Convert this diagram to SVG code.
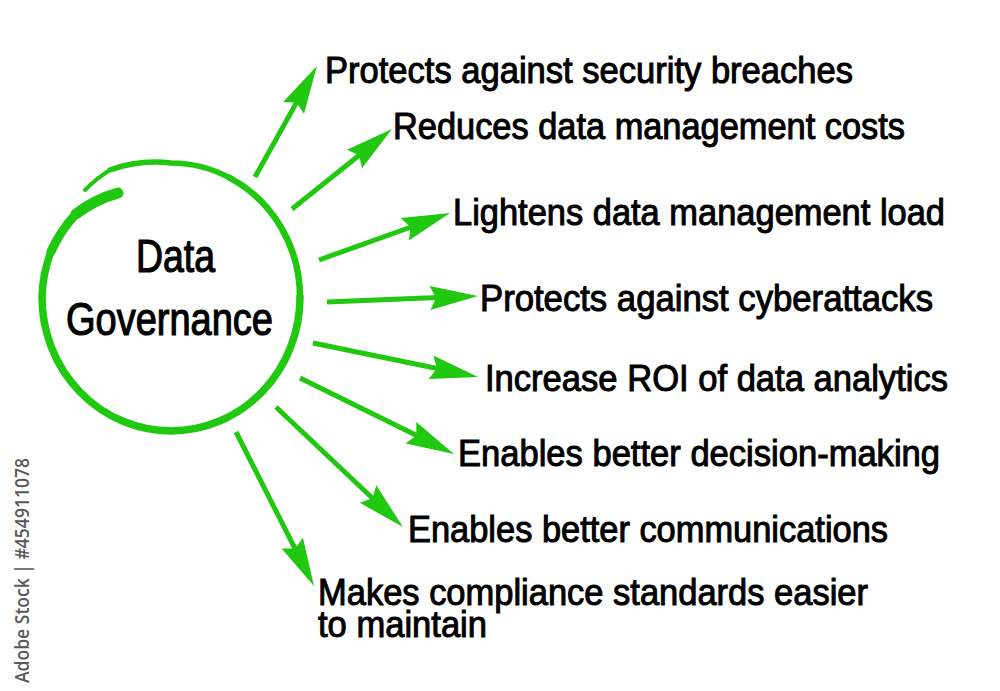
<svg xmlns="http://www.w3.org/2000/svg" width="1000" height="691" viewBox="0 0 1000 691">
<style>
.lbl{font-family:"Liberation Sans",Arial,sans-serif;font-size:36px;fill:#000;stroke:#000;stroke-width:1;}
.ctr{font-family:"Liberation Sans",Arial,sans-serif;font-size:46px;fill:#000;stroke:#000;stroke-width:1.2;}
.arr{stroke:#20c810;stroke-width:5;fill:none;marker-end:url(#head);}
.ring{fill:none;stroke:#20c810;stroke-linecap:round;}
.wm{font-family:"Open Sans","DejaVu Sans",sans-serif;font-size:19px;font-weight:600;fill:#5a5a5a;}
</style>
<defs>
<marker id="head" markerUnits="userSpaceOnUse" orient="auto" refX="20" refY="0" markerWidth="50" markerHeight="28" viewBox="0 -14 50 28" overflow="visible">
<path d="M0,-12 L48,0 L0,12 L6,0 Z" fill="#20c810"/>
</marker>
</defs>
<rect width="1000" height="691" fill="#fff"/>
<g id="center">
<path class="ring" stroke-width="11" d="M118,193 A124,129 0 0 0 76,214"/>
<path class="ring" stroke-width="9" d="M76,214 A127,132 0 0 0 51,251.6"/>
<path class="ring" stroke-width="7.5" d="M51,251.6 A129,134 0 0 0 42,297 A129,134 0 0 0 171,431 A129,134 0 0 0 300,297"/>
<path class="ring" stroke-width="6.5" d="M300,297 A129,134 0 0 0 230,178"/>
<path class="ring" stroke-width="5.5" d="M230,178 A129,134 0 0 0 171,163 A136,141 0 0 0 110,170"/>
<path class="ring" stroke-width="4" d="M110,170 A136,141 0 0 0 85,190"/>
<text class="ctr" x="136" y="272" textLength="79" lengthAdjust="spacingAndGlyphs">Data</text>
<text class="ctr" x="66" y="335" textLength="207" lengthAdjust="spacingAndGlyphs">Governance</text>
</g>
<g id="connectors">
<line class="arr" x1="255" y1="177" x2="303.3" y2="90.4"/>
<line class="arr" x1="292" y1="209" x2="370.1" y2="146.5"/>
<line class="arr" x1="319" y1="260" x2="423.7" y2="222.5"/>
<line class="arr" x1="327" y1="302" x2="450" y2="297.1"/>
<line class="arr" x1="313" y1="343" x2="450.6" y2="371.3"/>
<line class="arr" x1="300" y1="378" x2="428.9" y2="441.6"/>
<line class="arr" x1="276" y1="407" x2="382.6" y2="507.8"/>
<line class="arr" x1="236" y1="432" x2="301.3" y2="561"/>
</g>
<g id="n1"><text class="lbl" x="325" y="83" textLength="528" lengthAdjust="spacingAndGlyphs">Protects against security breaches</text></g>
<g id="n2"><text class="lbl" x="393" y="139" textLength="512" lengthAdjust="spacingAndGlyphs">Reduces data management costs</text></g>
<g id="n3"><text class="lbl" x="453" y="225" textLength="492" lengthAdjust="spacingAndGlyphs">Lightens data management load</text></g>
<g id="n4"><text class="lbl" x="480" y="311" textLength="453" lengthAdjust="spacingAndGlyphs">Protects against cyberattacks</text></g>
<g id="n5"><text class="lbl" x="485" y="391" textLength="463" lengthAdjust="spacingAndGlyphs">Increase ROI of data analytics</text></g>
<g id="n6"><text class="lbl" x="458" y="466" textLength="482" lengthAdjust="spacingAndGlyphs">Enables better decision-making</text></g>
<g id="n7"><text class="lbl" x="408" y="542" textLength="480" lengthAdjust="spacingAndGlyphs">Enables better communications</text></g>
<g id="n8">
<text class="lbl" x="318" y="605" textLength="550" lengthAdjust="spacingAndGlyphs">Makes compliance standards easier</text>
<text class="lbl" x="318" y="637" textLength="169" lengthAdjust="spacingAndGlyphs">to maintain</text>
</g>
<text class="wm" transform="translate(29,683) rotate(-90)" textLength="225" lengthAdjust="spacingAndGlyphs">Adobe Stock | #454911078</text>
</svg>
